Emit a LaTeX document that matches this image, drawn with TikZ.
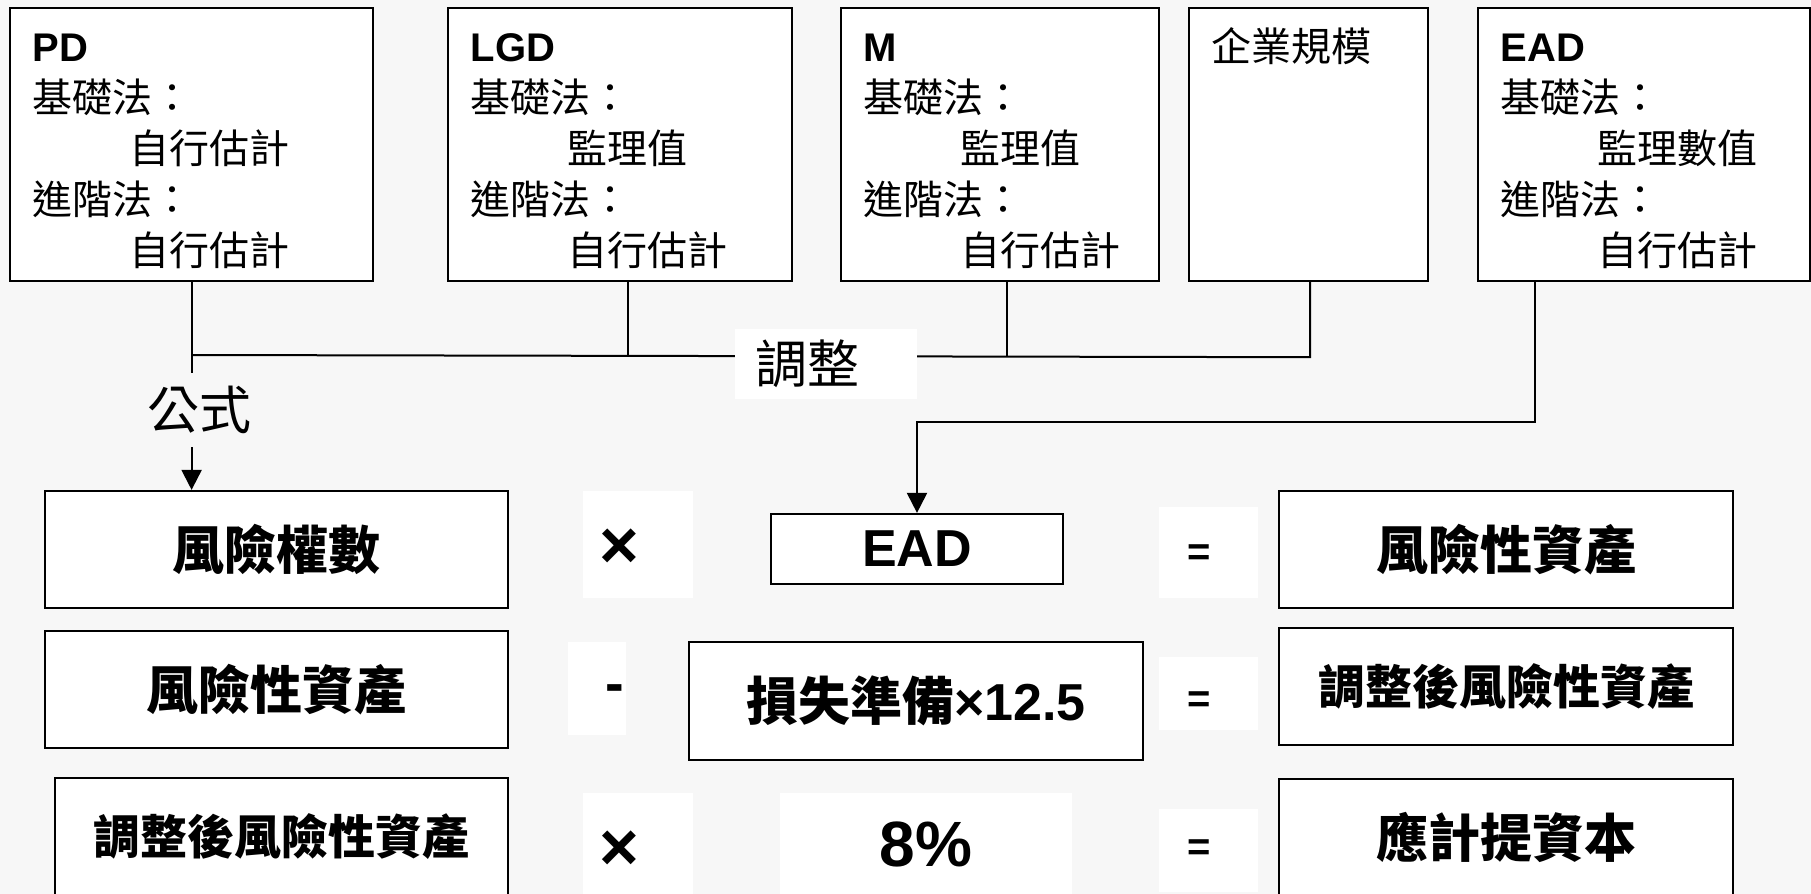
\documentclass[tikz,border=0pt]{standalone}
\usepackage{fontspec}
\setmainfont{Liberation Sans}
\newfontfamily\cjk{Noto Sans CJK TC}
\newfontfamily\lat{Liberation Sans}
\usetikzlibrary{arrows.meta,calc}
\newcommand\boxtext[2]{\parbox[t][136.5pt][t]{#1}{\rule{0pt}{26.5pt}#2}}
\newcommand\ind{\hspace*{48.5pt}}
\definecolor{pagebg}{gray}{0.97}
\begin{document}
\begin{tikzpicture}[x=0.5pt,y=-0.5pt,line width=1pt,
  topbox/.style={draw, line width=1.1pt, fill=white, anchor=north west,
    inner xsep=11.25pt, inner ysep=0pt, font=\fontsize{20pt}{25.5pt}\selectfont},
  bigbox/.style={draw, line width=1.1pt, fill=white, inner sep=0pt,
    minimum width=227pt, minimum height=58.5pt,
    font=\fontsize{26pt}{30pt}\selectfont\bfseries\cjk},
  longtxt/.style={font=\fontsize{23.5pt}{28pt}\selectfont\bfseries\cjk},
  optext/.style={inner sep=0pt, font=\bfseries},
  lbl/.style={fill=white, inner sep=0pt, font=\fontsize{26pt}{30pt}\selectfont\cjk},
  arr/.style={-{Triangle[length=10pt,width=10pt]}},
]
\useasboundingbox (0,0) rectangle (1811,894);
\clip (0,0) rectangle (1811,894);
\fill[pagebg] (0,0) rectangle (1811,894);
% white patches behind the operators
\fill[white] (583,491) rectangle (693,598);
\fill[white] (568,642) rectangle (626,735);
\fill[white] (583,793) rectangle (693,894);
\fill[white] (1159,507) rectangle (1258,598);
\fill[white] (1159,657) rectangle (1258,730);
\fill[white] (1159,809) rectangle (1258,892);
\fill[white] (780,793) rectangle (1072,894);

% top boxes
\node[topbox] (pd) at (9,7) {\boxtext{159pt}{\textbf{PD}\\ {\cjk 基礎法：}\\ \ind{\cjk 自行估計}\\ {\cjk 進階法：}\\ \ind{\cjk 自行估計}}};
\node[topbox] (lgd) at (447,7) {\boxtext{149.5pt}{\textbf{LGD}\\ {\cjk 基礎法：}\\ \ind{\cjk 監理值}\\ {\cjk 進階法：}\\ \ind{\cjk 自行估計}}};
\node[topbox] (mm) at (840,7) {\boxtext{136.5pt}{\textbf{M}\\ {\cjk 基礎法：}\\ \ind{\cjk 監理值}\\ {\cjk 進階法：}\\ \ind{\cjk 自行估計}}};
\node[topbox] (ent) at (1188,7) {\boxtext{97pt}{{\cjk 企業規模}}};
\node[topbox] (eadt) at (1477,7) {\boxtext{143.5pt}{\textbf{EAD}\\ {\cjk 基礎法：}\\ \ind{\cjk 監理數值}\\ {\cjk 進階法：}\\ \ind{\cjk 自行估計}}};

% bottom boxes
\node[bigbox, minimum width=231.5pt] (rw) at (276.5,549.5) {風險權數};
\node[bigbox, minimum width=231.5pt] (ra1) at (276.5,689.5) {風險性資產};
\node[bigbox, minimum width=226.5pt, longtxt] (adj1) at (281.5,836.5) {調整後風險性資產};
\node[bigbox, minimum width=146pt, minimum height=35pt,
  font=\fontsize{26pt}{30pt}\selectfont\bfseries] (eadb) at (917,549) {EAD};
\node[bigbox, minimum height=59pt] (loss) at (916,701) {損失準備{\lat ×12.5}};
\node[bigbox] (ra2) at (1506,549.5) {風險性資產};
\node[bigbox, longtxt] (adj2) at (1506,686.5) {調整後風險性資產};
\node[bigbox] (cap) at (1506,837.5) {應計提資本};

% operators
\node[optext, font=\fontsize{34pt}{36pt}\selectfont\bfseries] (t1) at (619,549) {×};
\node[optext, font=\fontsize{28pt}{30pt}\selectfont\bfseries] (m1) at (614.5,694) {-};
\node[optext, font=\fontsize{34pt}{36pt}\selectfont\bfseries] (t2) at (619,851) {×};
\node[optext, font=\fontsize{32pt}{36pt}\selectfont\bfseries] (pct) at (926,844) {8\%};
\node[optext, font=\fontsize{20pt}{24pt}\selectfont\bfseries] (e1) at (1199,555) {=};
\node[optext, font=\fontsize{20pt}{24pt}\selectfont\bfseries] (e2) at (1199,702) {=};
\node[optext, font=\fontsize{20pt}{24pt}\selectfont\bfseries] (e3) at (1199,850) {=};

% connectors
\coordinate (hy) at (0,355);
\draw[arr] (pd.south) -- (pd.south |- rw.north);
\draw ($(lgd.south)+(8,0)$) -- ++(0,75);
\draw ($(mm.south)+(7,0)$) -- ++(0,75);
\draw ($(ent.south)+(1.5,0)$) -- ++(0,75) -- (pd.south |- hy);
\draw[arr] ($(eadt.south)+(-109,0)$) -- ++(0,140) -| (eadb.north);

% labels on the connectors
\node[lbl, minimum width=91pt, minimum height=35pt, text width=71pt, align=left] (adjlbl) at (826,364) {調整};
\node[lbl, fill=pagebg, minimum height=37pt, inner xsep=2pt] (formula) at (199,410) {公式};
\end{tikzpicture}
\end{document}
